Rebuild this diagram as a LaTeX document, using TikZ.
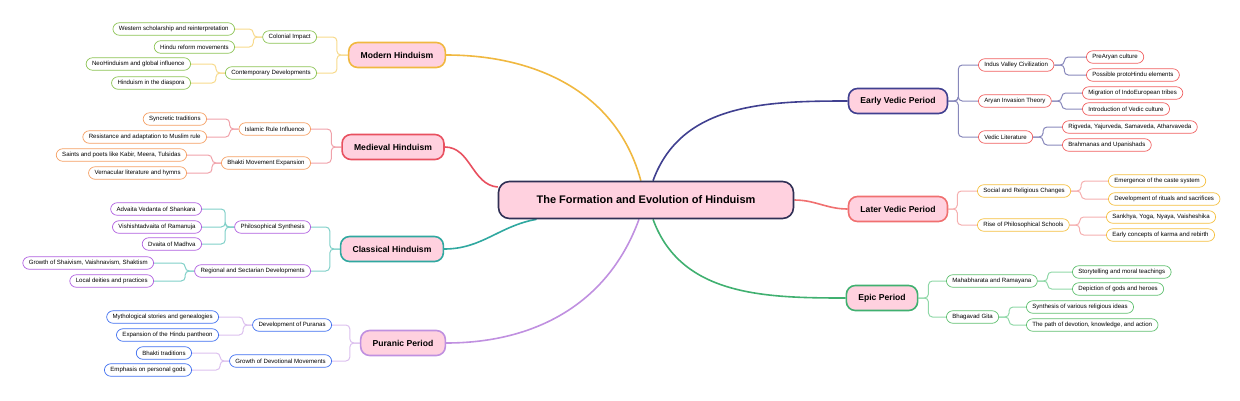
\documentclass[tikz,border=0pt]{standalone}
\usepackage{fontspec}
\setmainfont{Liberation Sans}
\usetikzlibrary{backgrounds}
\definecolor{rootline}{HTML}{303055}
\definecolor{pinkfill}{HTML}{FFD1DF}
\definecolor{modc}{HTML}{F0B840}\definecolor{modl}{HTML}{F7DA8C}\definecolor{modb}{HTML}{8DC455}
\definecolor{medc}{HTML}{E8505F}\definecolor{medl}{HTML}{F0A2AA}\definecolor{medb}{HTML}{F5A064}
\definecolor{clac}{HTML}{30A8A0}\definecolor{clal}{HTML}{80D0C8}\definecolor{clab}{HTML}{B060E0}
\definecolor{purc}{HTML}{C090E0}\definecolor{purl}{HTML}{DCC0EE}\definecolor{purb}{HTML}{4070F0}
\definecolor{eavc}{HTML}{404090}\definecolor{eavl}{HTML}{8888BB}\definecolor{eavb}{HTML}{F06060}
\definecolor{lavc}{HTML}{F07070}\definecolor{lavl}{HTML}{F5AFAF}\definecolor{lavb}{HTML}{F5C040}
\definecolor{epic}{HTML}{40B070}\definecolor{epil}{HTML}{90D8A8}\definecolor{epib}{HTML}{60C070}
\tikzset{
  rootbox/.style={draw=rootline, line width=1.6pt, fill=pinkfill, rounded corners=11pt,
    minimum width=295pt, minimum height=37pt, font=\fontsize{11}{13}\selectfont\bfseries},
  branch/.style={draw=#1, line width=1.6pt, fill=pinkfill, rounded corners=9pt,
    minimum height=25pt, inner xsep=12pt, font=\fontsize{8.6}{10}\selectfont\bfseries},
  leaf/.style={draw=#1, line width=0.7pt, fill=white, rounded corners=6.5pt,
    minimum height=12.5pt, inner xsep=6pt, inner ysep=1pt, font=\fontsize{6.1}{7}\selectfont},
  trunk/.style={draw=#1, line width=1.6pt},
  twig/.style={draw=#1, line width=1pt, rounded corners=4pt}
}
\begin{document}
\begin{tikzpicture}[x=1pt,y=-1pt]
\useasboundingbox (0,0) rectangle (1240,400);
% root
\node[rootbox] (root) at (646,200) {The Formation and Evolution of Hinduism};

% main branches
\node[branch=modc] (mod) at (397,55) {Modern Hinduism};
\node[branch=medc] (med) at (393,147) {Medieval Hinduism};
\node[branch=clac] (cla) at (392,249) {Classical Hinduism};
\node[branch=purc] (pur) at (403,343) {Puranic Period};
\node[branch=eavc] (eav) at (898,101) {Early Vedic Period};
\node[branch=lavc] (lav) at (898,209) {Later Vedic Period};
\node[branch=epic] (epi) at (882,298) {Epic Period};

% Modern Hinduism
\node[leaf=modb, anchor=east] (mod1) at (317,37) {Colonial Impact};
\node[leaf=modb, anchor=east] (mod2) at (317,73) {Contemporary Developments};
\node[leaf=modb, anchor=east] (mod11) at (235,29) {Western scholarship and reinterpretation};
\node[leaf=modb, anchor=east] (mod12) at (235,47) {Hindu reform movements};
\node[leaf=modb, anchor=east] (mod21) at (191,64) {NeoHinduism and global influence};
\node[leaf=modb, anchor=east] (mod22) at (191,83) {Hinduism in the diaspora};

% Medieval Hinduism
\node[leaf=medb, anchor=east] (med1) at (311,129) {Islamic Rule Influence};
\node[leaf=medb, anchor=east] (med2) at (311,163) {Bhakti Movement Expansion};
\node[leaf=medb, anchor=east] (med11) at (207,119) {Syncretic traditions};
\node[leaf=medb, anchor=east] (med12) at (207,137) {Resistance and adaptation to Muslim rule};
\node[leaf=medb, anchor=east] (med21) at (187,155) {Saints and poets like Kabir, Meera, Tulsidas};
\node[leaf=medb, anchor=east] (med22) at (187,173) {Vernacular literature and hymns};

% Classical Hinduism
\node[leaf=clab, anchor=east] (cla1) at (311,227) {Philosophical Synthesis};
\node[leaf=clab, anchor=east] (cla2) at (311,271) {Regional and Sectarian Developments};
\node[leaf=clab, anchor=east] (cla11) at (202,209) {Advaita Vedanta of Shankara};
\node[leaf=clab, anchor=east] (cla12) at (202,227) {Vishishtadvaita of Ramanuja};
\node[leaf=clab, anchor=east] (cla13) at (202,244) {Dvaita of Madhva};
\node[leaf=clab, anchor=east] (cla21) at (154,263) {Growth of Shaivism, Vaishnavism, Shaktism};
\node[leaf=clab, anchor=east] (cla22) at (154,281) {Local deities and practices};

% Puranic Period
\node[leaf=purb, anchor=east] (pur1) at (332,325) {Development of Puranas};
\node[leaf=purb, anchor=east] (pur2) at (332,361) {Growth of Devotional Movements};
\node[leaf=purb, anchor=east] (pur11) at (219,317) {Mythological stories and genealogies};
\node[leaf=purb, anchor=east] (pur12) at (219,335) {Expansion of the Hindu pantheon};
\node[leaf=purb, anchor=east] (pur21) at (192,353) {Bhakti traditions};
\node[leaf=purb, anchor=east] (pur22) at (192,370) {Emphasis on personal gods};

% Early Vedic Period
\node[leaf=eavb, anchor=west] (eav1) at (978,65) {Indus Valley Civilization};
\node[leaf=eavb, anchor=west] (eav2) at (978,101) {Aryan Invasion Theory};
\node[leaf=eavb, anchor=west] (eav3) at (978,137) {Vedic Literature};
\node[leaf=eavb, anchor=west] (eav11) at (1086,57) {PreAryan culture};
\node[leaf=eavb, anchor=west] (eav12) at (1086,75) {Possible protoHindu elements};
\node[leaf=eavb, anchor=west] (eav21) at (1082,93) {Migration of IndoEuropean tribes};
\node[leaf=eavb, anchor=west] (eav22) at (1082,109) {Introduction of Vedic culture};
\node[leaf=eavb, anchor=west] (eav31) at (1062,127) {Rigveda, Yajurveda, Samaveda, Atharvaveda};
\node[leaf=eavb, anchor=west] (eav32) at (1062,145) {Brahmanas and Upanishads};

% Later Vedic Period
\node[leaf=lavb, anchor=west] (lav1) at (977,191) {Social and Religious Changes};
\node[leaf=lavb, anchor=west] (lav2) at (977,225) {Rise of Philosophical Schools};
\node[leaf=lavb, anchor=west] (lav11) at (1108,181) {Emergence of the caste system};
\node[leaf=lavb, anchor=west] (lav12) at (1108,199) {Development of rituals and sacrifices};
\node[leaf=lavb, anchor=west] (lav21) at (1106,217) {Sankhya, Yoga, Nyaya, Vaisheshika};
\node[leaf=lavb, anchor=west] (lav22) at (1106,235) {Early concepts of karma and rebirth};

% Epic Period
\node[leaf=epib, anchor=west] (epi1) at (946,281) {Mahabharata and Ramayana};
\node[leaf=epib, anchor=west] (epi2) at (946,317) {Bhagavad Gita};
\node[leaf=epib, anchor=west] (epi11) at (1072,272) {Storytelling and moral teachings};
\node[leaf=epib, anchor=west] (epi12) at (1072,289) {Depiction of gods and heroes};
\node[leaf=epib, anchor=west] (epi21) at (1026,307) {Synthesis of various religious ideas};
\node[leaf=epib, anchor=west] (epi22) at (1026,325) {The path of devotion, knowledge, and action};

\begin{scope}[on background layer]
  % trunks from the root
  \draw[trunk=modc] (root) to[out=105,in=0] (mod.east);
  \draw[trunk=medc] (root) to[out=175,in=0] (med.east);
  \draw[trunk=clac] (root) to[out=190,in=0] (cla.east);
  \draw[trunk=purc] (root) to[out=250,in=0] (pur.east);
  \draw[trunk=eavc] (root) to[out=70,in=180] (eav.west);
  \draw[trunk=lavc] (root) to[out=0,in=180] (lav.west);
  \draw[trunk=epic] (root) to[out=290,in=180] (epi.west);
  % left twigs
  \foreach \p/\c/\w in {mod/modl/-11, med/medl/-10, cla/clal/-10, pur/purl/-10} {
    \foreach \k in {1,2} {
      \draw[twig=\c] (\p.west) -- ++(\w,0) |- (\p\k.east);
    }
  }
  \foreach \p/\c in {mod1/modl, mod2/modl, med1/medl, med2/medl, cla1/clal, cla2/clal, pur1/purl, pur2/purl} {
    \foreach \k in {1,2} {
      \draw[twig=\c] (\p.west) -- ++(-9,0) |- (\p\k.east);
    }
  }
  \draw[twig=clal] (cla1.west) -- ++(-9,0) |- (cla13.east);
  % right twigs
  \foreach \k in {1,2,3} {
    \draw[twig=eavl] (eav.east) -- ++(10,0) |- (eav\k.west);
    \draw[twig=eavl] (eav\k.west) ++(0,0) (eav\k.east) -- ++(10,0) |- (eav\k1.west);
    \draw[twig=eavl] (eav\k.east) -- ++(10,0) |- (eav\k2.west);
  }
  \foreach \p/\c/\w in {lav/lavl/9, epi/epil/10} {
    \foreach \k in {1,2} {
      \draw[twig=\c] (\p.east) -- ++(\w,0) |- (\p\k.west);
      \draw[twig=\c] (\p\k.east) -- ++(10,0) |- (\p\k1.west);
      \draw[twig=\c] (\p\k.east) -- ++(10,0) |- (\p\k2.west);
    }
  }
\end{scope}
\end{tikzpicture}
\end{document}
